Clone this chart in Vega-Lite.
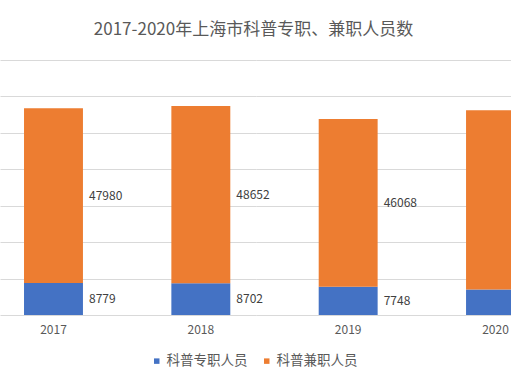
{
  "$schema": "https://vega.github.io/schema/vega-lite/v6.json",
  "autosize": {"type": "none"},
  "padding": {"left": 0, "top": 60, "right": 0, "bottom": 70},
  "width": 549,
  "height": 255,
  "background": "white",
  "title": {
    "text": "2017-2020年上海市科普专职、兼职人员数",
    "font": "Noto Sans CJK SC",
    "fontSize": 17,
    "fontWeight": "normal",
    "color": "#595959",
    "anchor": "middle",
    "dx": -21,
    "offset": 21
  },
  "data": {
    "values": [
      {"year": "2017", "series": "科普专职人员", "order": 1, "value": 8779},
      {"year": "2017", "series": "科普兼职人员", "order": 2, "value": 47980},
      {"year": "2018", "series": "科普专职人员", "order": 1, "value": 8702},
      {"year": "2018", "series": "科普兼职人员", "order": 2, "value": 48652},
      {"year": "2019", "series": "科普专职人员", "order": 1, "value": 7748},
      {"year": "2019", "series": "科普兼职人员", "order": 2, "value": 46068},
      {"year": "2020", "series": "科普专职人员", "order": 1, "value": 7000},
      {"year": "2020", "series": "科普兼职人员", "order": 2, "value": 49200}
    ]
  },
  "transform": [
    {"stack": "value", "groupby": ["year"], "sort": [{"field": "order"}], "as": ["v0", "v1"]},
    {"calculate": "(datum.v0 + datum.v1) / 2", "as": "vmid"}
  ],
  "encoding": {
    "x": {
      "field": "year",
      "type": "nominal",
      "title": null,
      "scale": {"paddingInner": 0.6, "paddingOuter": 0.163},
      "axis": {
        "labelAngle": 0,
        "ticks": false,
        "domain": false,
        "labelPadding": 9,
        "labelFont": "Noto Sans CJK SC",
        "labelFontSize": 12,
        "labelColor": "#595959",
        "grid": false
      }
    }
  },
  "layer": [
    {
      "mark": {"type": "bar"},
      "encoding": {
        "y": {
          "field": "v1",
          "type": "quantitative",
          "title": null,
          "scale": {"domain": [0, 70000], "nice": false}
        },
        "y2": {"field": "v0"},
        "color": {
          "field": "series",
          "type": "nominal",
          "sort": ["科普专职人员", "科普兼职人员"],
          "scale": {"domain": ["科普专职人员", "科普兼职人员"], "range": ["#4472C4", "#ED7D31"]},
          "legend": {
            "title": null,
            "orient": "none",
            "direction": "horizontal",
            "legendX": 150,
            "legendY": 294,
            "symbolType": "square",
            "symbolSize": 30,
            "symbolStrokeWidth": 0,
            "labelFont": "Noto Sans CJK SC",
            "labelFontSize": 13.5,
            "labelColor": "#595959",
            "labelOffset": 3,
            "columnPadding": 12
          }
        }
      }
    },
    {
      "transform": [{"filter": "datum.year != '2020'"}],
      "mark": {
        "type": "text",
        "align": "left",
        "baseline": "middle",
        "dx": 35.5,
        "font": "Noto Sans CJK SC",
        "fontSize": 12,
        "color": "#404040"
      },
      "encoding": {
        "y": {"field": "vmid", "type": "quantitative", "title": null},
        "text": {"field": "value", "type": "quantitative", "format": "d"}
      }
    }
  ],
  "config": {
    "view": {"stroke": null},
    "axisY": {
      "values": [0, 10000, 20000, 30000, 40000, 50000, 60000, 70000],
      "labels": false,
      "ticks": false,
      "domain": false,
      "grid": true,
      "gridColor": "#D9D9D9",
      "gridWidth": 1,
      "title": null
    }
  }
}
